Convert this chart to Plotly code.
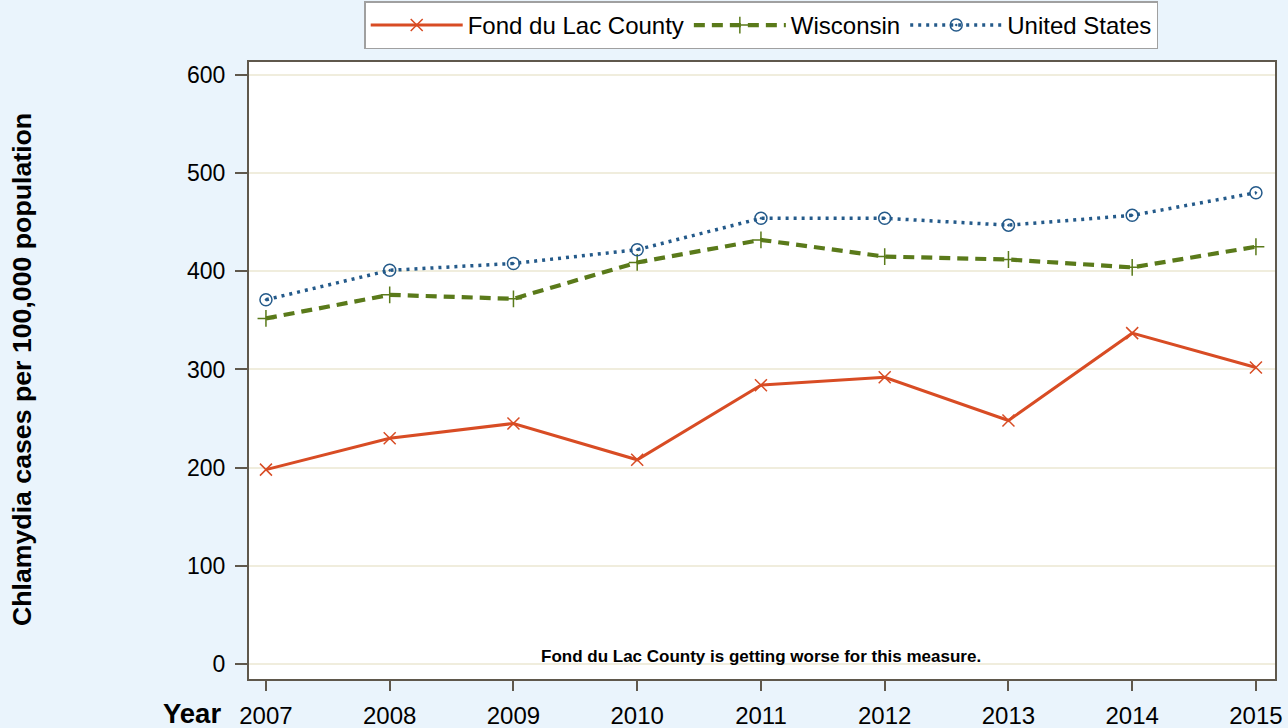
import plotly.graph_objects as go

years = [2007, 2008, 2009, 2010, 2011, 2012, 2013, 2014, 2015]
fond_du_lac = [198, 230, 245, 208, 284, 292, 248, 337, 302]
wisconsin = [352, 376, 372, 409, 432, 415, 412, 404, 425]
united_states = [371, 401, 408, 422, 454, 454, 447, 457, 480]
y_ticks = [0, 100, 200, 300, 400, 500, 600]

BG = "#EAF4FC"
AX = "#5F584C"
GRID = "#F0EDDD"

fig = go.Figure()
fig.add_trace(go.Scatter(
    x=years, y=fond_du_lac, name="Fond du Lac County", mode="lines+markers",
    line=dict(color="#D84C24", width=3),
    marker=dict(symbol="x-thin", size=12, line=dict(color="#D84C24", width=1.5)),
))
fig.add_trace(go.Scatter(
    x=years, y=wisconsin, name="Wisconsin", mode="lines+markers",
    line=dict(color="#5A7A1A", width=4.2, dash="11px,7px"),
    marker=dict(symbol="cross-thin", size=12, line=dict(color="#5A7A1A", width=1.5)),
))
fig.add_trace(go.Scatter(
    x=years, y=united_states, name="United States", mode="lines+markers",
    line=dict(color="#245A8A", width=3.5, dash="3px,5px"),
    marker=dict(symbol="circle-open-dot", size=12, color="#245A8A",
                line=dict(color="#245A8A", width=1.5)),
))

fig.update_layout(
    width=1288, height=728,
    paper_bgcolor=BG, plot_bgcolor="white",
    margin=dict(l=249, r=13, t=62, b=49, autoexpand=False),
    font=dict(family="Liberation Sans, Arial, sans-serif", size=24, color="black"),
    showlegend=True,
    legend=dict(
        orientation="h", xref="container", yref="container",
        x=0.591, xanchor="center", y=0.998, yanchor="top",
        bgcolor="white", bordercolor="#A0A0A0", borderwidth=1.5,
        font=dict(size=24), itemwidth=92,
    ),
    xaxis=dict(
        range=[2006.863, 2015.154], tickvals=years, ticktext=[str(y) for y in years],
        showgrid=False, zeroline=False, automargin=False,
        showline=True, linecolor=AX, linewidth=2, mirror=True,
        ticks="outside", ticklen=10, tickwidth=2, tickcolor=AX,
        tickfont=dict(size=24), ticklabelstandoff=4,
    ),
    yaxis=dict(
        range=[-15.3, 613.2], tickvals=y_ticks, automargin=False,
        showgrid=True, gridcolor=GRID, gridwidth=2, zeroline=False,
        showline=True, linecolor=AX, linewidth=2, mirror=True,
        ticks="outside", ticklen=12, tickwidth=2, tickcolor=AX,
        tickfont=dict(size=23), ticklabelstandoff=5,
    ),
    annotations=[
        dict(text="<b>Fond du Lac County is getting worse for this measure.</b>",
             x=2011, xref="x", y=0.0357, yref="paper", showarrow=False,
             font=dict(size=17), xanchor="center", yanchor="middle"),
        dict(text="<b>Chlamydia cases per 100,000 population</b>",
             x=-0.2212, xref="paper", y=0.5008, yref="paper", showarrow=False,
             textangle=-90, font=dict(size=26.7), xanchor="center", yanchor="middle"),
        dict(text="<b>Year</b>",
             x=-0.0556, xref="paper", y=-0.0567, yref="paper", showarrow=False,
             font=dict(size=27.5), xanchor="center", yanchor="middle"),
    ],
)

fig.write_html("out.html", config={"displayModeBar": False},
               post_script="document.body.style.margin='0';document.body.style.overflow='hidden';")
